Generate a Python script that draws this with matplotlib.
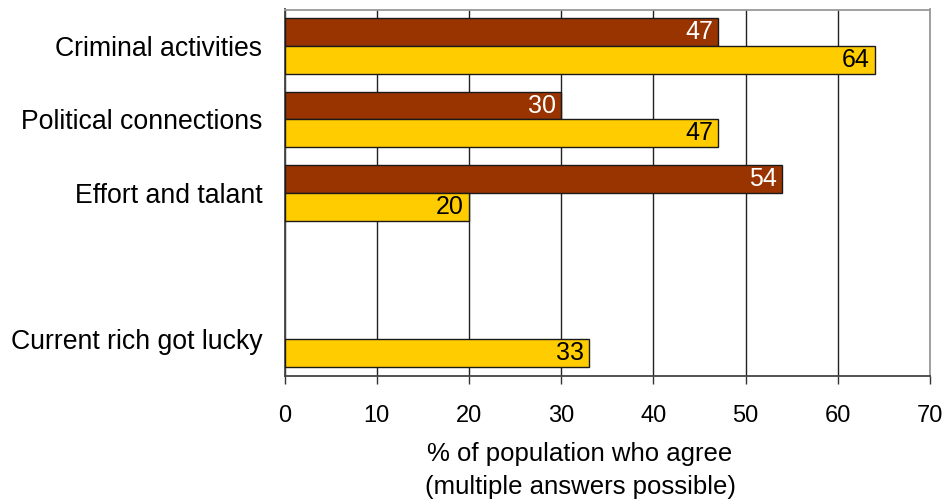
import matplotlib
matplotlib.use("Agg")
import matplotlib.pyplot as plt
import numpy as np

plt.rcParams['font.family'] = ['Liberation Sans', 'DejaVu Sans']

categories = ["Criminal activities", "Political connections", "Effort and talant", "", "Current rich got lucky"]
series_dark = [47, 30, 54, None, None]
series_yellow = [64, 47, 20, None, 33]
x_ticks = [0, 10, 20, 30, 40, 50, 60, 70]

W, H = 947, 500
fig = plt.figure(figsize=(W / 100, H / 100), dpi=100)
left, right, top, bottom = 284.5, 930, 9.5, 376
ax = fig.add_axes([left / W, 1 - bottom / H, (right - left) / W, (bottom - top) / H])

bar_h = 0.38
y = np.arange(len(categories))
for i, (d, yv) in enumerate(zip(series_dark, series_yellow)):
    if d is not None:
        ax.barh(i - bar_h / 2, d, height=bar_h, color="#993300", edgecolor="#1a1a1a", linewidth=1, zorder=3)
        ax.text(d - 0.55, i - bar_h / 2, str(d), ha="right", va="center", color="white", fontsize=18, zorder=4)
    if yv is not None:
        ax.barh(i + bar_h / 2, yv, height=bar_h, color="#FFCC00", edgecolor="#1a1a1a", linewidth=1, zorder=3)
        ax.text(yv - 0.55, i + bar_h / 2, str(yv), ha="right", va="center", color="black", fontsize=18, zorder=4)

ax.set_xlim(0, 70)
ax.set_ylim(len(categories) - 0.5, -0.5)
ax.set_xticks(x_ticks)
ax.set_xticklabels([str(t) for t in x_ticks], fontsize=17)
ax.set_yticks(y)
ax.set_yticklabels(categories, fontsize=19.2)
ax.tick_params(axis="y", length=0, pad=16)
ax.tick_params(axis="x", length=6, width=1, color="#333333", pad=15, direction="out")
ax.xaxis.grid(True, color="#222222", linewidth=1, zorder=0)
ax.set_axisbelow(True)

for s in ["top", "right"]:
    ax.spines[s].set_color("#999999")
    ax.spines[s].set_linewidth(1.3)
for s in ["left", "bottom"]:
    ax.spines[s].set_color("#444444")
    ax.spines[s].set_linewidth(1.3)

fig.text(580 / W, 1 - 454 / H, "% of population who agree", ha="center", va="center", fontsize=18.5)
fig.text(580 / W, 1 - 487 / H, "(multiple answers possible)", ha="center", va="center", fontsize=18.5)

fig.savefig("out.png", dpi=100, facecolor="white")
